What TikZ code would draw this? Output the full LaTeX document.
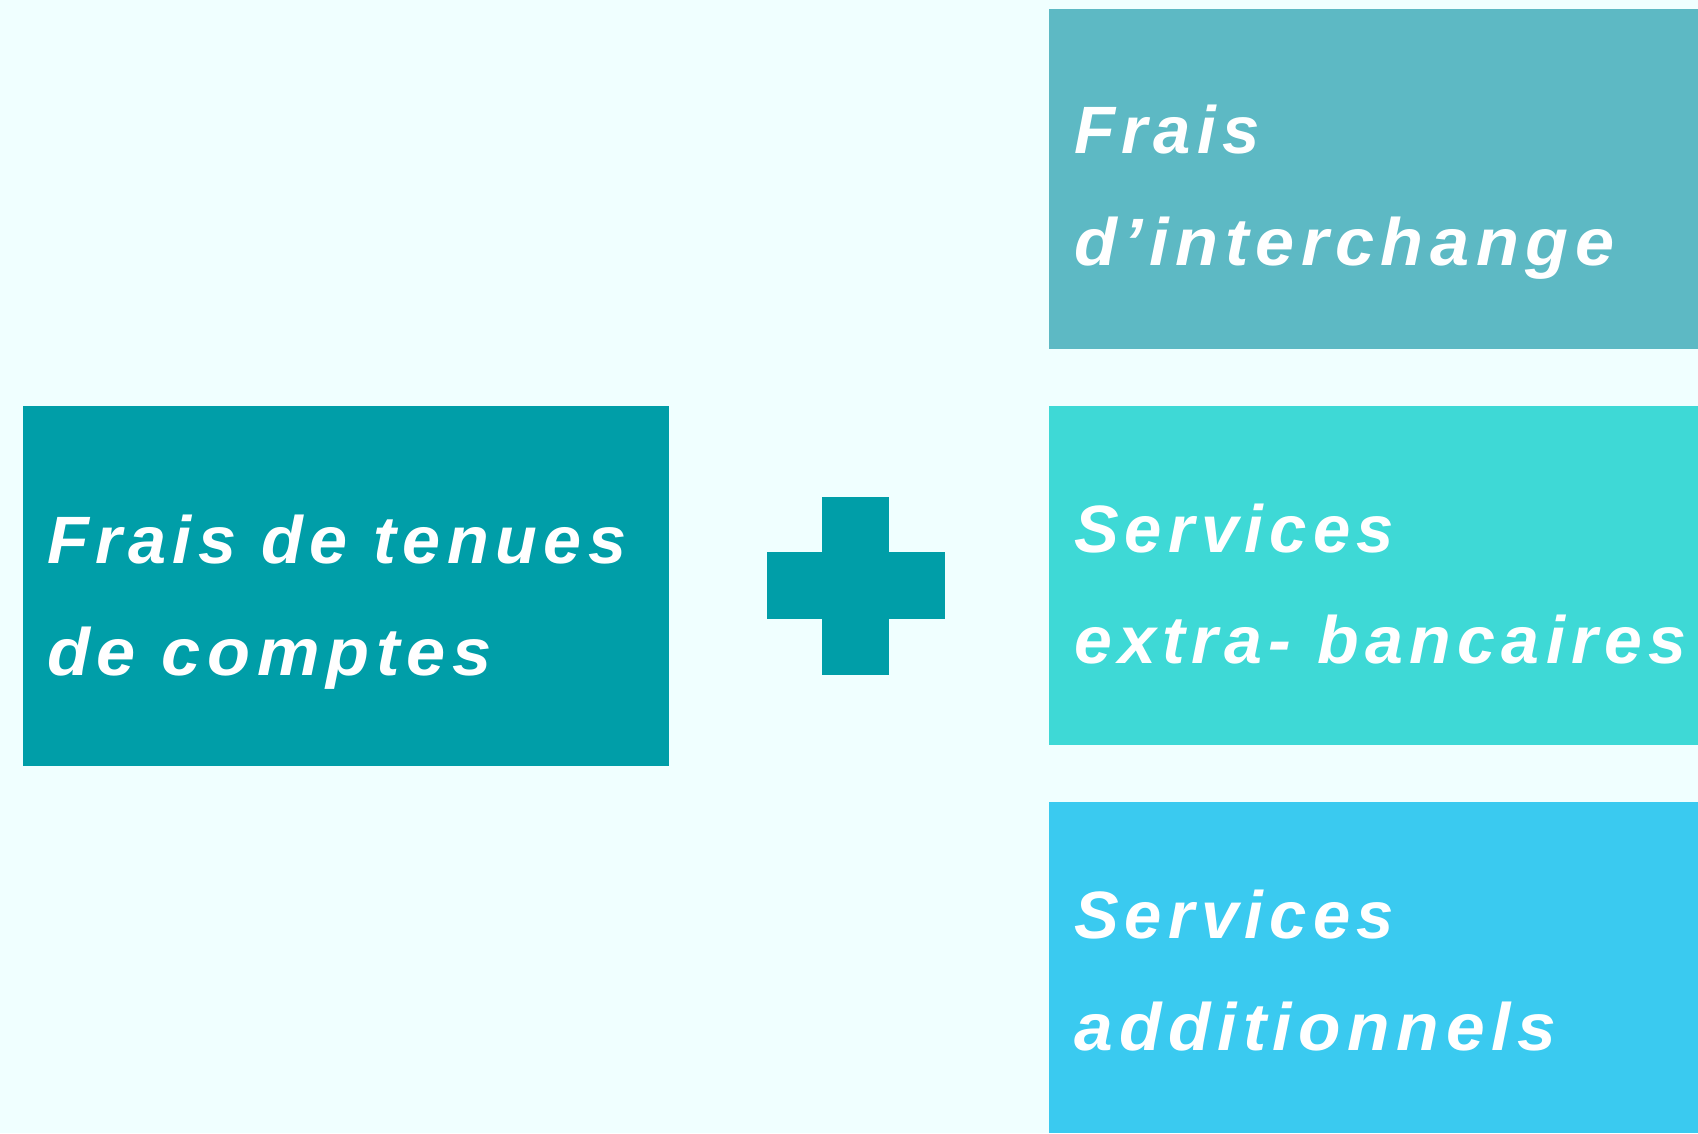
\documentclass[tikz,border=0pt]{standalone}
\usepackage{graphicx}
\usepackage{fontspec}
\newfontfamily\lbl[LetterSpace=9.5]{Liberation Sans}
\definecolor{bgc}{HTML}{F0FFFF}
\definecolor{cteal}{HTML}{009EA8}
\definecolor{cone}{HTML}{5DB9C4}
\definecolor{ctwo}{HTML}{3ED9D6}
\definecolor{cthree}{HTML}{3ACAF0}
\tikzset{
  box/.style={anchor=north west, inner sep=0pt, outer sep=0pt, draw=none},
  lab/.style={anchor=base west, inner sep=0pt, outer sep=0pt, text=white,
    font=\lbl\bfseries\itshape\fontsize{67}{112}\selectfont}
}
\begin{document}
\begin{tikzpicture}[x=1pt,y=-1pt]
\fill[bgc] (0,0) rectangle (1698,1133);
\useasboundingbox (0,0) rectangle (1698,1133);
% boxes
\node[box, fill=cteal, minimum width=646.5pt, minimum height=359.6pt] (left) at (22.7,406) {};
\node[box, fill=cone, minimum width=649pt, minimum height=340pt] (top) at (1049,8.7) {};
\node[box, fill=ctwo, minimum width=649pt, minimum height=339pt] (mid) at (1049,406) {};
\node[box, fill=cthree, minimum width=649pt, minimum height=331pt] (bot) at (1049,802) {};
% plus sign
\fill[cteal] (822,497) rectangle (889,675);
\fill[cteal] (766.5,552) rectangle (945,619);
% labels
\node[lab] (l1) at (47,563) {\scalebox{1.02}[1]{Frais de tenues}};
\node[lab] (l2) at (47,675) {\scalebox{1.05}[1]{de comptes}};
\node[lab] (t1) at (1074,153) {Frais};
\node[lab] (t2) at (1074,265) {\scalebox{1.048}[1]{d’interchange}};
\node[lab] (m1) at (1074,552) {Services};
\node[lab] (m2) at (1074,663) {\scalebox{1.016}[1]{extra- bancaires}};
\node[lab] (b1) at (1074,938) {Services};
\node[lab] (b2) at (1074,1050) {\scalebox{1.037}[1]{additionnels}};
\end{tikzpicture}
\end{document}
